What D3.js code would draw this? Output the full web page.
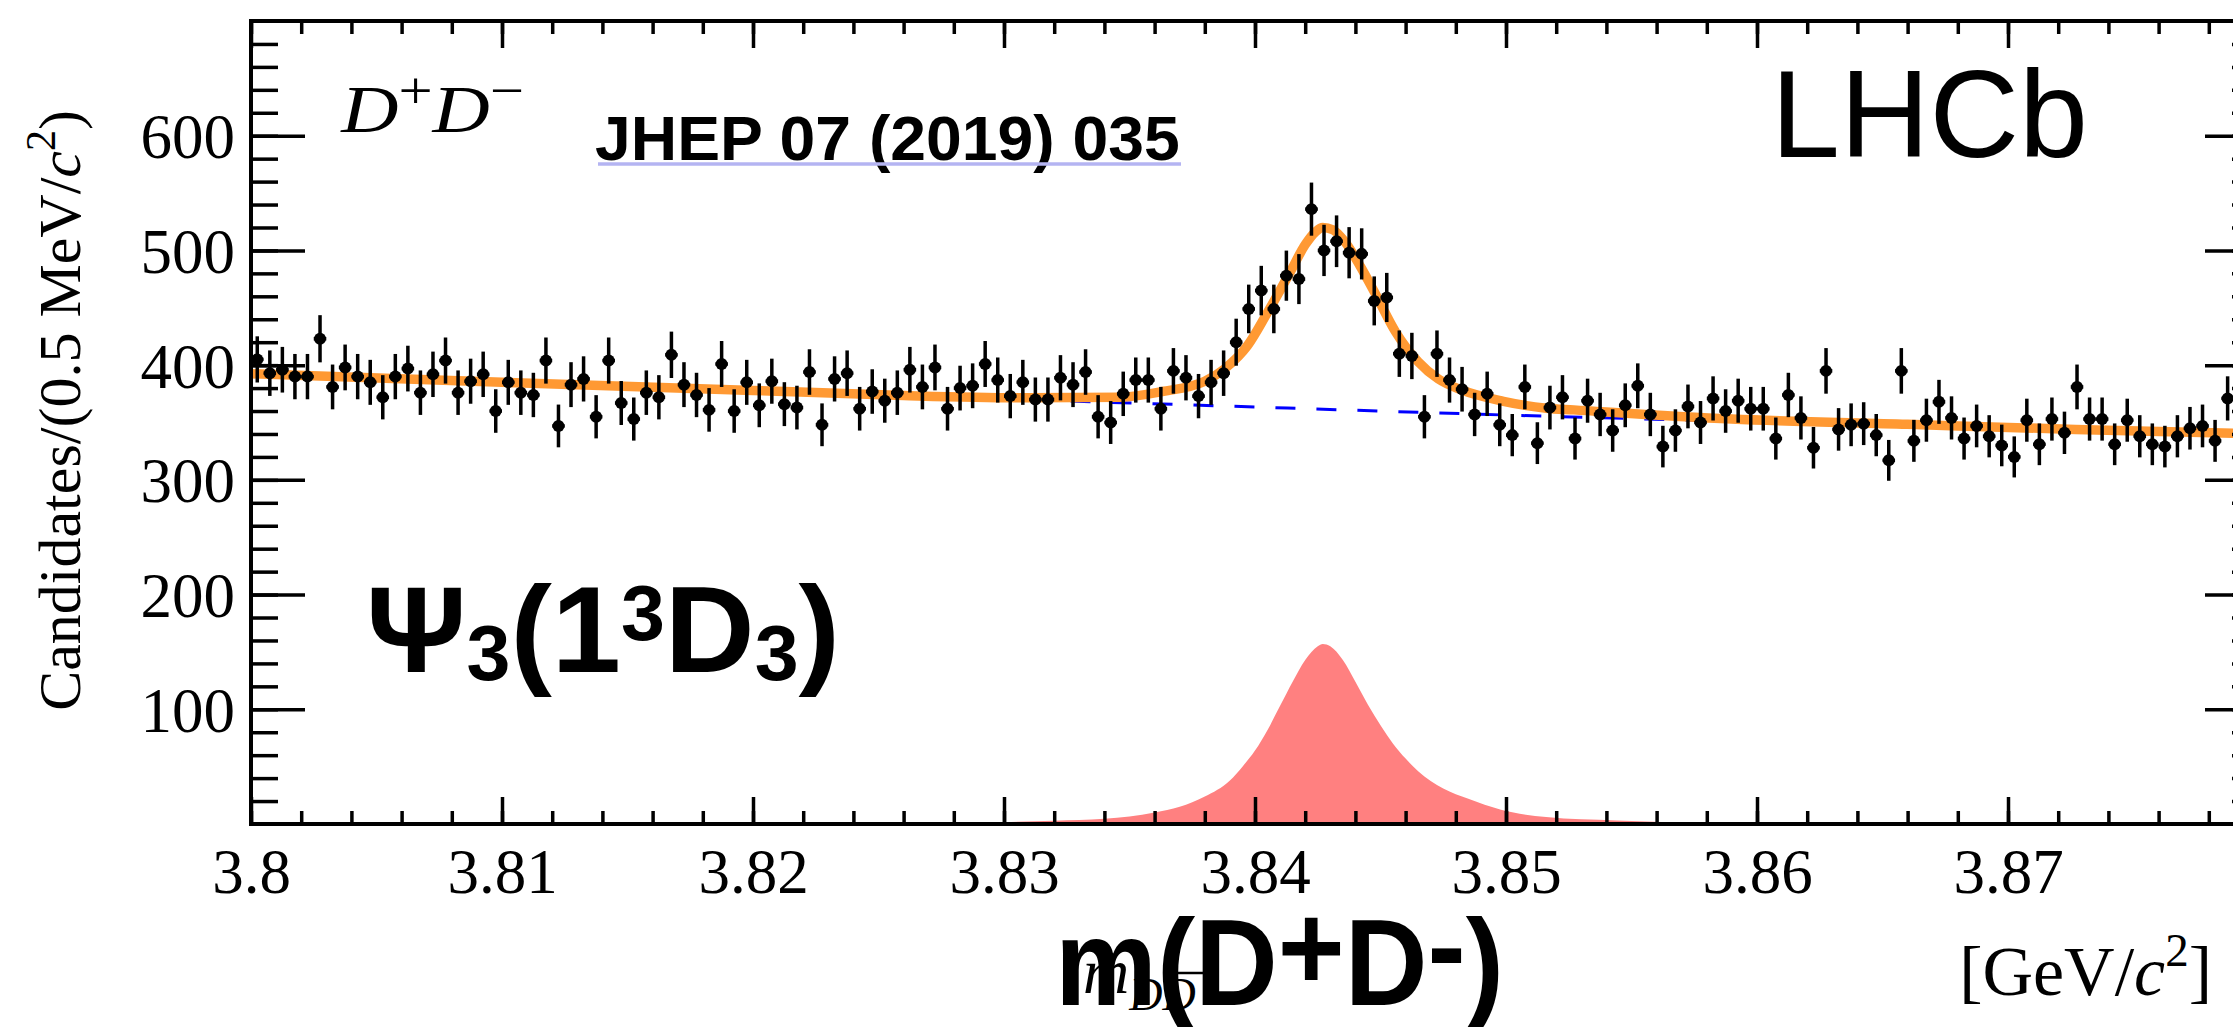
<!DOCTYPE html>
<html>
<head>
<meta charset="utf-8">
<script src="https://cdn.jsdelivr.net/npm/d3@7"></script>
<style>
  html, body { margin: 0; padding: 0; background: #ffffff; overflow: hidden; }
  svg { display: block; }
</style>
</head>
<body>
<svg id="chart" width="2233" height="1027"></svg>
<script>
// ---------------- DATA ----------------
// Histogram: 0.5 MeV bins starting at 3.800 GeV
const binLow = 3.800;
const binWidth = 0.0005;
const counts = [
  405, 393, 396, 390, 390, 423, 381, 398, 390, 385,
  372, 390, 397, 376, 392, 404, 376, 386, 392, 360,
  385, 376, 374, 404, 347, 383, 388, 355, 404, 367,
  353, 376, 372, 409, 383, 374, 361, 401, 360, 385,
  365, 386, 366, 363, 394, 348, 388, 393, 362, 377,
  369, 376, 396, 381, 398, 362, 380, 382, 401, 387,
  373, 385, 370, 370, 389, 383, 394, 355, 350, 375,
  387, 387, 362, 395, 389, 373, 385, 393, 420, 449,
  465, 449, 478, 475, 536, 500, 508, 498, 497, 456,
  459, 410, 408, 355, 410, 387, 379, 357, 375, 348,
  339, 381, 332, 363, 372, 336, 369, 357, 343, 365,
  382, 357, 329, 343, 364, 350, 371, 360, 369, 362,
  362, 336, 374, 354, 328, 395, 344, 348, 349, 339,
  317, 395, 334, 352, 368, 354, 336, 347, 338, 330,
  320, 352, 331, 353, 341, 381, 353, 353, 331, 352,
  338, 331, 329, 338, 345, 347, 334, 371
];

// Total fit (orange), sampled along the drawn curve
const fitX = [3.800, 3.810, 3.820, 3.826, 3.831, 3.8346, 3.8363, 3.8380, 3.8388, 3.8397,
              3.8405, 3.8414, 3.8420, 3.8424, 3.8427, 3.8431, 3.8436, 3.8442, 3.8448, 3.8456,
              3.8465, 3.8473, 3.8482, 3.8499, 3.8516, 3.8527, 3.8590, 3.8660, 3.8727, 3.8800];
const fitTotal = [392.5, 385, 378, 373.5, 371.5, 372, 377, 386, 397, 417,
                  446, 481, 505, 516, 520, 518, 507, 486, 462, 429,
                  403, 388, 378.6, 368.5, 362.5, 361, 353, 348.4, 344, 340];

// Background component (blue dashed)
const bkgX = [3.80, 3.81, 3.82, 3.83, 3.84, 3.85, 3.86, 3.87, 3.88];
const bkgY = [392.5, 385, 377.5, 370.5, 363.5, 356.5, 350.5, 345, 340];

// Signal component (filled pink)
const sigX = [3.820, 3.826, 3.830, 3.832, 3.834, 3.835, 3.836, 3.837, 3.838, 3.839,
              3.8395, 3.840, 3.8405, 3.841, 3.8415, 3.842, 3.8425, 3.8427, 3.843, 3.8435,
              3.844, 3.8445, 3.845, 3.8455, 3.846, 3.8465, 3.8475, 3.8485, 3.8498, 3.8516,
              3.8544, 3.858, 3.862, 3.866];
const sigY = [0, 0.8, 1.8, 2.8, 4.5, 6.5, 10, 15, 24, 38,
              50, 64, 82, 103, 124, 143, 155, 157, 155, 143,
              124, 104, 86, 70, 57, 46, 31, 22, 12.5, 6,
              3, 1, 0.4, 0];

// Tick labels
const xTickValues = [3.80, 3.81, 3.82, 3.83, 3.84, 3.85, 3.86, 3.87];
const xTickLabels = ["3.8", "3.81", "3.82", "3.83", "3.84", "3.85", "3.86", "3.87"];
const yTickValues = [100, 200, 300, 400, 500, 600];
const yTickLabels = ["100", "200", "300", "400", "500", "600"];

// ---------------- LAYOUT ----------------
const SERIF = "'Liberation Serif', 'Times New Roman', Times, serif";
const SANS = "'Liberation Sans', Arial, Helvetica, sans-serif";
const L = 251, R = 2259, T = 21, B = 824;

const svg = d3.select("#chart");
const x = d3.scaleLinear().domain([3.80, 3.88]).range([L, R]);
const y = d3.scaleLinear().domain([0, 700]).range([B, T]);

svg.append("rect").attr("width", 2233).attr("height", 1027).attr("fill", "#fff");

const defs = svg.append("defs");
defs.append("clipPath").attr("id", "plotclip")
  .append("rect").attr("x", L).attr("y", T).attr("width", R - L).attr("height", B - T);

const plot = svg.append("g").attr("clip-path", "url(#plotclip)");

// signal area
plot.append("path")
  .datum(d3.zip(sigX, sigY))
  .attr("d", d3.area().x(d => x(d[0])).y0(y(0)).y1(d => y(d[1])).curve(d3.curveMonotoneX))
  .attr("fill", "#ff8080");

// background dashed
plot.append("path")
  .datum(d3.zip(bkgX, bkgY))
  .attr("d", d3.line().x(d => x(d[0])).y(d => y(d[1])).curve(d3.curveMonotoneX))
  .attr("fill", "none").attr("stroke", "#0000ff").attr("stroke-width", 3)
  .attr("stroke-dasharray", "20,21");

// total fit
plot.append("path")
  .datum(d3.zip(fitX, fitTotal))
  .attr("d", d3.line().x(d => x(d[0])).y(d => y(d[1])).curve(d3.curveMonotoneX))
  .attr("fill", "none").attr("stroke", "#ff9933").attr("stroke-width", 9.5)
  .attr("stroke-linejoin", "round");

// data points
const pts = counts.map((c, i) => ({ m: binLow + binWidth * (i + 0.5), v: c, e: Math.sqrt(c) }));
const dg = plot.append("g").attr("stroke", "#000").attr("stroke-width", 3.5);
dg.selectAll("line.ey").data(pts).join("line").attr("class", "ey")
  .attr("x1", d => x(d.m)).attr("x2", d => x(d.m))
  .attr("y1", d => y(d.v - d.e)).attr("y2", d => y(d.v + d.e));
dg.selectAll("line.ex").data(pts).join("line").attr("class", "ex")
  .attr("x1", d => x(d.m - binWidth / 2)).attr("x2", d => x(d.m + binWidth / 2))
  .attr("y1", d => y(d.v)).attr("y2", d => y(d.v));
plot.append("g").selectAll("circle").data(pts).join("circle")
  .attr("cx", d => x(d.m)).attr("cy", d => y(d.v)).attr("r", 6).attr("fill", "#000");

// ---------------- AXES ----------------
const minorX = d3.range(0, 41).map(i => 3.80 + i * 0.002);
const minorY = d3.range(1, 35).map(i => i * 20);

function styleAxis(g) {
  g.select(".domain").remove();
  g.selectAll(".tick line").attr("stroke", "#000").attr("stroke-width", 3.5);
  g.selectAll(".tick text").attr("font-family", SERIF).attr("font-size", 63).attr("fill", "#000");
}

svg.append("g").attr("transform", `translate(0,${B})`)
  .call(d3.axisBottom(x).tickValues(minorX).tickSize(-13).tickFormat("")).call(styleAxis);
const xAxisG = svg.append("g").attr("transform", `translate(0,${B})`)
  .call(d3.axisBottom(x).tickValues(xTickValues).tickSize(-27).tickPadding(24)
    .tickFormat((d, i) => xTickLabels[i])).call(styleAxis);
xAxisG.selectAll(".tick text").attr("dy", "0.71em");
svg.append("g").attr("transform", `translate(0,${T})`)
  .call(d3.axisTop(x).tickValues(minorX).tickSize(-13).tickFormat("")).call(styleAxis);
svg.append("g").attr("transform", `translate(0,${T})`)
  .call(d3.axisTop(x).tickValues(xTickValues.concat([3.88])).tickSize(-27).tickFormat("")).call(styleAxis);

svg.append("g").attr("transform", `translate(${L},0)`)
  .call(d3.axisLeft(y).tickValues(minorY).tickSize(-27).tickFormat("")).call(styleAxis);
const yAxisG = svg.append("g").attr("transform", `translate(${L},0)`)
  .call(d3.axisLeft(y).tickValues(yTickValues).tickSize(-54).tickPadding(16)
    .tickFormat((d, i) => yTickLabels[i])).call(styleAxis);
yAxisG.selectAll(".tick text").attr("dy", "0.35em");
svg.append("g").attr("transform", `translate(${R},0)`)
  .call(d3.axisRight(y).tickValues(minorY).tickSize(-27).tickFormat("")).call(styleAxis);
svg.append("g").attr("transform", `translate(${R},0)`)
  .call(d3.axisRight(y).tickValues(yTickValues).tickSize(-54).tickFormat("")).call(styleAxis);

// frame
svg.append("rect").attr("x", L).attr("y", T).attr("width", R - L).attr("height", B - T)
  .attr("fill", "none").attr("stroke", "#000").attr("stroke-width", 4);

// ---------------- TEXTS ----------------
// helper: horizontally fit a text group between two x positions
function fitX2(g, x0, x1) {
  const bb = g.node().getBBox();
  const s = (x1 - x0) / bb.width;
  g.attr("transform", `translate(${x0 - bb.x * s},0) scale(${s},1)`);
}

// y-axis title
const yt = svg.append("text")
  .attr("transform", "translate(80,110) rotate(-90)")
  .attr("text-anchor", "end").attr("font-family", SERIF).attr("font-size", 60).attr("fill", "#000");
yt.append("tspan").text("Candidates/(0.5 MeV/");
yt.append("tspan").attr("font-style", "italic").text("c");
yt.append("tspan").attr("font-size", 42).attr("dy", -25).text("2");
yt.append("tspan").attr("dy", 25).text(")");

// x-axis unit
const xu = svg.append("text").attr("x", 2212).attr("y", 995)
  .attr("text-anchor", "end").attr("font-family", SERIF).attr("font-size", 70).attr("fill", "#000");
xu.append("tspan").text("[GeV/");
xu.append("tspan").attr("font-style", "italic").text("c");
xu.append("tspan").attr("font-size", 47).attr("dy", -29).text("2");
xu.append("tspan").attr("dy", 29).text("]");

// original axis symbol m_{D Dbar}
const mt = svg.append("text").attr("x", 1083).attr("y", 993)
  .attr("font-family", SERIF).attr("font-size", 64).attr("font-style", "italic").attr("fill", "#000");
mt.append("tspan").text("m");
mt.append("tspan").attr("font-size", 46).attr("dy", 17).text("DD");
svg.append("line").attr("x1", 1177).attr("x2", 1206).attr("y1", 973).attr("y2", 973)
  .attr("stroke", "#000").attr("stroke-width", 2.5);

// D+D- label
const dgp = svg.append("g");
const dd = dgp.append("text").attr("x", 0).attr("y", 132)
  .attr("font-family", SERIF).attr("font-size", 68).attr("font-style", "italic").attr("fill", "#000");
dd.append("tspan").text("D");
dd.append("tspan").attr("font-style", "normal").attr("font-size", 52).attr("dy", -24).text("+");
dd.append("tspan").attr("font-size", 68).attr("dy", 24).text("D");
dd.append("tspan").attr("font-style", "normal").attr("font-size", 52).attr("dy", -24).text("\u2212");
fitX2(dgp, 340, 524);

// LHCb
svg.append("text").attr("x", 1771).attr("y", 157)
  .attr("font-family", SANS).attr("font-size", 124).attr("fill", "#000").text("LHCb");

// JHEP reference
const jg = svg.append("g");
jg.append("text").attr("x", 0).attr("y", 160)
  .attr("font-family", SANS).attr("font-weight", "bold").attr("font-size", 63).attr("fill", "#000")
  .text("JHEP 07 (2019) 035");
fitX2(jg, 595, 1180);
svg.append("line").attr("x1", 598).attr("x2", 1181).attr("y1", 164).attr("y2", 164)
  .attr("stroke", "#b4b4f2").attr("stroke-width", 3.5);

// Psi_3(1^3 D_3)
const pg = svg.append("g");
const pt = pg.append("text").attr("x", 0).attr("y", 672)
  .attr("font-family", SANS).attr("font-weight", "bold").attr("font-size", 123).attr("fill", "#000");
pt.append("tspan").text("\u03A8");
pt.append("tspan").attr("font-size", 78).attr("dy", 8).text("3");
pt.append("tspan").attr("font-size", 123).attr("dy", -8).text("(1");
pt.append("tspan").attr("font-size", 78).attr("dy", -32).text("3");
pt.append("tspan").attr("font-size", 123).attr("dy", 32).text("D");
pt.append("tspan").attr("font-size", 78).attr("dy", 8).text("3");
pt.append("tspan").attr("font-size", 123).attr("dy", -8).text(")");
fitX2(pg, 366, 840);

// m(D+D-)
const mg = svg.append("g");
const mtx = mg.append("text").attr("x", 0).attr("y", 1005)
  .attr("font-family", SANS).attr("font-weight", "bold").attr("font-size", 123).attr("fill", "#000");
mtx.append("tspan").text("m(D");
mtx.append("tspan").attr("dy", -15).text("+");
mtx.append("tspan").attr("dy", 15).text("D");
mtx.append("tspan").attr("dy", -17).text("-");
mtx.append("tspan").attr("dy", 17).text(")");
fitX2(mg, 1055, 1504);
</script>
</body>
</html>
